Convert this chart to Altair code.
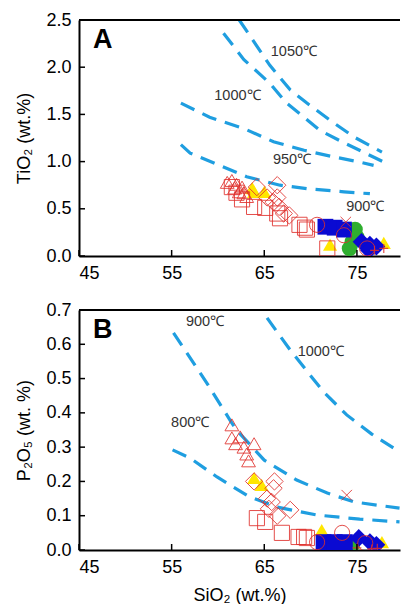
import altair as alt
import pandas as pd

FONT = "Liberation Sans"
RED = "#e0302c"
YELLOW = "#ffe600"
GREEN = "#2fae2f"
BLUE = "#0a0ad2"
CURVE = "#1f9ee0"

X_DOMAIN = [45, 79.65]
X_TICKS = [45, 55, 65, 75]
W = 321

# ---- Panel A: TiO2 saturation isotherms ----
a1050_x = [62.3, 65.6, 67.8, 69.6, 72.5, 74.7, 77.7]
a1050_y = [2.50, 2.02, 1.76, 1.62, 1.41, 1.26, 1.10]
a1000_x = [60.6, 62.8, 65.6, 67.4, 68.8, 71.0, 73.6, 75.7, 77.8]
a1000_y = [2.36, 2.08, 1.83, 1.62, 1.51, 1.33, 1.20, 1.10, 1.00]
a950_x = [56.0, 59.1, 62.8, 66.0, 69.3, 72.5, 75.5, 76.8]
a950_y = [1.62, 1.47, 1.35, 1.21, 1.12, 1.05, 0.99, 0.96]
a900_x = [56.0, 57.0, 63.1, 66.7, 69.9, 73.6, 76.4]
a900_y = [1.18, 1.09, 0.84, 0.75, 0.71, 0.68, 0.66]

a_label_text = ["1050℃", "1000℃", "950℃", "900℃"]
a_label_x = [68.2, 62.1, 68.0, 75.9]
a_label_y = [2.16, 1.70, 1.02, 0.52]

# ---- Panel B: apatite saturation isotherms ----
b1000_x = [65.3, 67.8, 71.4, 73.9, 76.6, 79.6]
b1000_y = [0.677, 0.583, 0.461, 0.394, 0.338, 0.286]
b900_x = [55.2, 58.8, 61.3, 62.0, 65.0, 68.5, 71.8, 74.7, 79.6]
b900_y = [0.633, 0.487, 0.379, 0.350, 0.262, 0.204, 0.166, 0.140, 0.122]
b800_x = [55.1, 57.0, 59.9, 63.4, 66.4, 70.7, 75.3, 79.6]
b800_y = [0.292, 0.268, 0.213, 0.155, 0.125, 0.102, 0.090, 0.082]

b_label_text = ["900℃", "1000℃", "800℃"]
b_label_x = [58.6, 71.1, 57.0]
b_label_y = [0.665, 0.577, 0.37]

# ---- Sample compositions (SiO2 vs TiO2 / P2O5) ----
yel_tri_ax = [63.9, 65.0, 63.7, 72.1, 77.9]
yel_tri_ay = [0.68, 0.68, 0.72, 0.12, 0.14]
grn_ax = [74.8, 74.5, 74.2, 75.0]
grn_ay = [0.28, 0.15, 0.08, 0.20]
blu_sq_ax = [71.6, 72.6, 73.6]
blu_sq_ay = [0.31, 0.30, 0.28]
blu_dia_ax = [75.5, 76.4, 77.1, 76.3]
blu_dia_ay = [0.15, 0.12, 0.10, 0.06]
red_tri_ax = [61.0, 61.5, 61.8, 62.6, 62.8, 63.1, 62.3, 62.0]
red_tri_ay = [0.78, 0.80, 0.72, 0.73, 0.67, 0.63, 0.68, 0.76]
red_sq_ax = [61.5, 62.0, 62.6, 63.9, 65.1, 66.4, 66.7, 68.8, 69.4, 69.6, 71.8]
red_sq_ay = [0.73, 0.67, 0.60, 0.52, 0.51, 0.45, 0.40, 0.33, 0.30, 0.28, 0.08]
red_dia_ax = [64.2, 66.4, 65.3, 66.0, 66.6, 67.1, 67.7, 66.4]
red_dia_ay = [0.73, 0.75, 0.62, 0.57, 0.52, 0.45, 0.43, 0.62]
red_cir_ax = [70.7, 73.6, 76.1]
red_cir_ay = [0.33, 0.22, 0.08]
red_x_ax = [73.8]
red_x_ay = [0.36]
red_plus_ax = [77.9, 76.9]
red_plus_ay = [0.08, 0.06]

yel_tri_bx = [63.9, 64.7, 71.2, 77.7]
yel_tri_by = [0.21, 0.19, 0.058, 0.023]
grn_bx = [74.5]
grn_by = [0.015]
blu_sq_bx = [71.4, 72.6, 73.7]
blu_sq_by = [0.023, 0.023, 0.023]
blu_dia_bx = [75.2, 76.4, 77.1]
blu_dia_by = [0.035, 0.023, 0.015]
red_tri_bx = [61.5, 61.5, 62.4, 61.9, 62.8, 63.1, 63.3, 63.9]
red_tri_by = [0.365, 0.327, 0.330, 0.310, 0.300, 0.280, 0.260, 0.310]
red_sq_bx = [64.2, 65.1, 66.9, 68.7, 69.3, 69.6]
red_sq_by = [0.093, 0.082, 0.050, 0.038, 0.038, 0.035]
red_dia_bx = [63.9, 66.1, 66.0, 65.3, 65.8, 67.8, 66.4, 65.5]
red_dia_by = [0.20, 0.20, 0.18, 0.15, 0.14, 0.117, 0.10, 0.12]
red_cir_bx = [70.7, 73.4, 75.9]
red_cir_by = [0.023, 0.050, 0.020]
red_x_bx = [73.9]
red_x_by = [0.16]
red_plus_bx = [75.0, 76.6, 77.2]
red_plus_by = [0.006, 0.003, 0.005]

X_PATH = "M-1,-1L1,1M-1,1L1,-1"
PLUS_PATH = "M-1,0L1,0M0,-1L0,1"

# marker styles: (shape, filled, colour, size, stroke width)
STYLE = {
    "yel_tri": ("triangle-up", True, YELLOW, 200, 0),
    "grn": ("circle", True, GREEN, 240, 0),
    "blu_sq": ("square", True, BLUE, 250, 0),
    "blu_dia": ("diamond", True, BLUE, 320, 0),
    "red_tri": ("triangle-up", False, RED, 190, 1),
    "red_sq": ("square", False, RED, 230, 1),
    "red_dia": ("diamond", False, RED, 300, 1),
    "red_cir": ("circle", False, RED, 230, 1),
    "red_x": (X_PATH, False, RED, 110, 1),
    "red_plus": (PLUS_PATH, False, RED, 80, 1.2),
}


def enc_x(title):
    kw = dict(scale=alt.Scale(domain=X_DOMAIN, nice=False, zero=False),
              axis=alt.Axis(values=X_TICKS, labelPadding=8, title=title,
                            titlePadding=10))
    return alt.X("x:Q", **kw)


def enc_y(domain, ticks, title):
    return alt.Y("y:Q",
                 scale=alt.Scale(domain=domain, nice=False, zero=False),
                 axis=alt.Axis(values=ticks, format=".1f", labelPadding=8,
                               title=title, titlePadding=12))


def panel(curves, labels, groups, ydomain, yticks, ytitle, xtitle, height, letter):
    X = enc_x(xtitle)
    Y = enc_y(ydomain, yticks, ytitle)

    rows = []
    for name, xs, ys in curves:
        for i, (xv, yv) in enumerate(zip(xs, ys)):
            rows.append({"x": xv, "y": yv, "curve": name, "i": i})
    lines = alt.Chart(pd.DataFrame(rows)).mark_line(
        color=CURVE, strokeWidth=3.2, strokeDash=[15, 9], clip=True
    ).encode(x=X, y=Y, detail="curve:N", order="i:Q")

    text_df = pd.DataFrame({"x": labels[1], "y": labels[2], "t": labels[0]})
    temp = alt.Chart(text_df).mark_text(
        font=FONT, fontSize=14.5, color="#333333"
    ).encode(x=X, y=Y, text="t:N")

    layers = [lines]
    for key, xs, ys in groups:
        shape, filled, color, size, sw = STYLE[key]
        props = dict(shape=shape, filled=filled, size=size, clip=True)
        if filled:
            props.update(fill=color, opacity=1, strokeWidth=0)
        else:
            props.update(stroke=color, fillOpacity=0, strokeWidth=sw, opacity=0.85)
        layers.append(
            alt.Chart(pd.DataFrame({"x": xs, "y": ys}))
            .mark_point(**props)
            .encode(x=X, y=Y)
        )
    layers.append(temp)

    # inward tick marks on both axes
    layers.append(
        alt.Chart(pd.DataFrame({"y": yticks})).mark_rule(
            color="black", strokeWidth=1.5
        ).encode(y=Y, x=alt.value(0), x2=alt.value(6))
    )
    layers.append(
        alt.Chart(pd.DataFrame({"x": X_TICKS})).mark_rule(
            color="black", strokeWidth=1.5
        ).encode(x=X, y=alt.value(height), y2=alt.value(height - 6))
    )
    # upper frame line
    layers.append(
        alt.Chart(pd.DataFrame({"x": [0]})).mark_rule(
            color="black", strokeWidth=2
        ).encode(x=alt.value(0), x2=alt.value(W), y=alt.value(0))
    )
    layers.append(
        alt.Chart(pd.DataFrame({"x": [0]})).mark_text(
            text=letter, font=FONT, fontSize=27, fontWeight="bold",
            align="left", baseline="top", color="black"
        ).encode(x=alt.value(14), y=alt.value(7))
    )
    return alt.layer(*layers).properties(width=W, height=height)


panel_a = panel(
    curves=[("1050", a1050_x, a1050_y), ("1000", a1000_x, a1000_y),
            ("950", a950_x, a950_y), ("900", a900_x, a900_y)],
    labels=(a_label_text, a_label_x, a_label_y),
    groups=[("yel_tri", yel_tri_ax, yel_tri_ay), ("grn", grn_ax, grn_ay),
            ("blu_sq", blu_sq_ax, blu_sq_ay), ("blu_dia", blu_dia_ax, blu_dia_ay),
            ("red_tri", red_tri_ax, red_tri_ay), ("red_sq", red_sq_ax, red_sq_ay),
            ("red_dia", red_dia_ax, red_dia_ay), ("red_cir", red_cir_ax, red_cir_ay),
            ("red_x", red_x_ax, red_x_ay), ("red_plus", red_plus_ax, red_plus_ay)],
    ydomain=[0, 2.5], yticks=[0, 0.5, 1.0, 1.5, 2.0, 2.5],
    ytitle="TiO₂ (wt.%)", xtitle=None, height=236, letter="A",
)

panel_b = panel(
    curves=[("1000", b1000_x, b1000_y), ("900", b900_x, b900_y),
            ("800", b800_x, b800_y)],
    labels=(b_label_text, b_label_x, b_label_y),
    groups=[("yel_tri", yel_tri_bx, yel_tri_by), ("grn", grn_bx, grn_by),
            ("blu_sq", blu_sq_bx, blu_sq_by), ("blu_dia", blu_dia_bx, blu_dia_by),
            ("red_tri", red_tri_bx, red_tri_by), ("red_sq", red_sq_bx, red_sq_by),
            ("red_dia", red_dia_bx, red_dia_by), ("red_cir", red_cir_bx, red_cir_by),
            ("red_x", red_x_bx, red_x_by), ("red_plus", red_plus_bx, red_plus_by)],
    ydomain=[0, 0.7], yticks=[0, 0.1, 0.2, 0.3, 0.4, 0.5, 0.6, 0.7],
    ytitle="P₂O₅ (wt. %)", xtitle="SiO₂ (wt.%)", height=240, letter="B",
)

chart = alt.vconcat(panel_a, panel_b, spacing=19).properties(
    padding={"left": 15, "top": 11, "right": 0, "bottom": 0},
    background="white",
).configure(font=FONT).configure_view(stroke=None).configure_axis(
    domainColor="black", domainWidth=2, ticks=False, grid=False,
    labelFont=FONT, titleFont=FONT, labelFontSize=18, titleFontSize=18,
    labelColor="black", titleColor="black", titleFontWeight="normal",
)

chart.save("out.html", embed_options={"renderer": "svg", "actions": False})
